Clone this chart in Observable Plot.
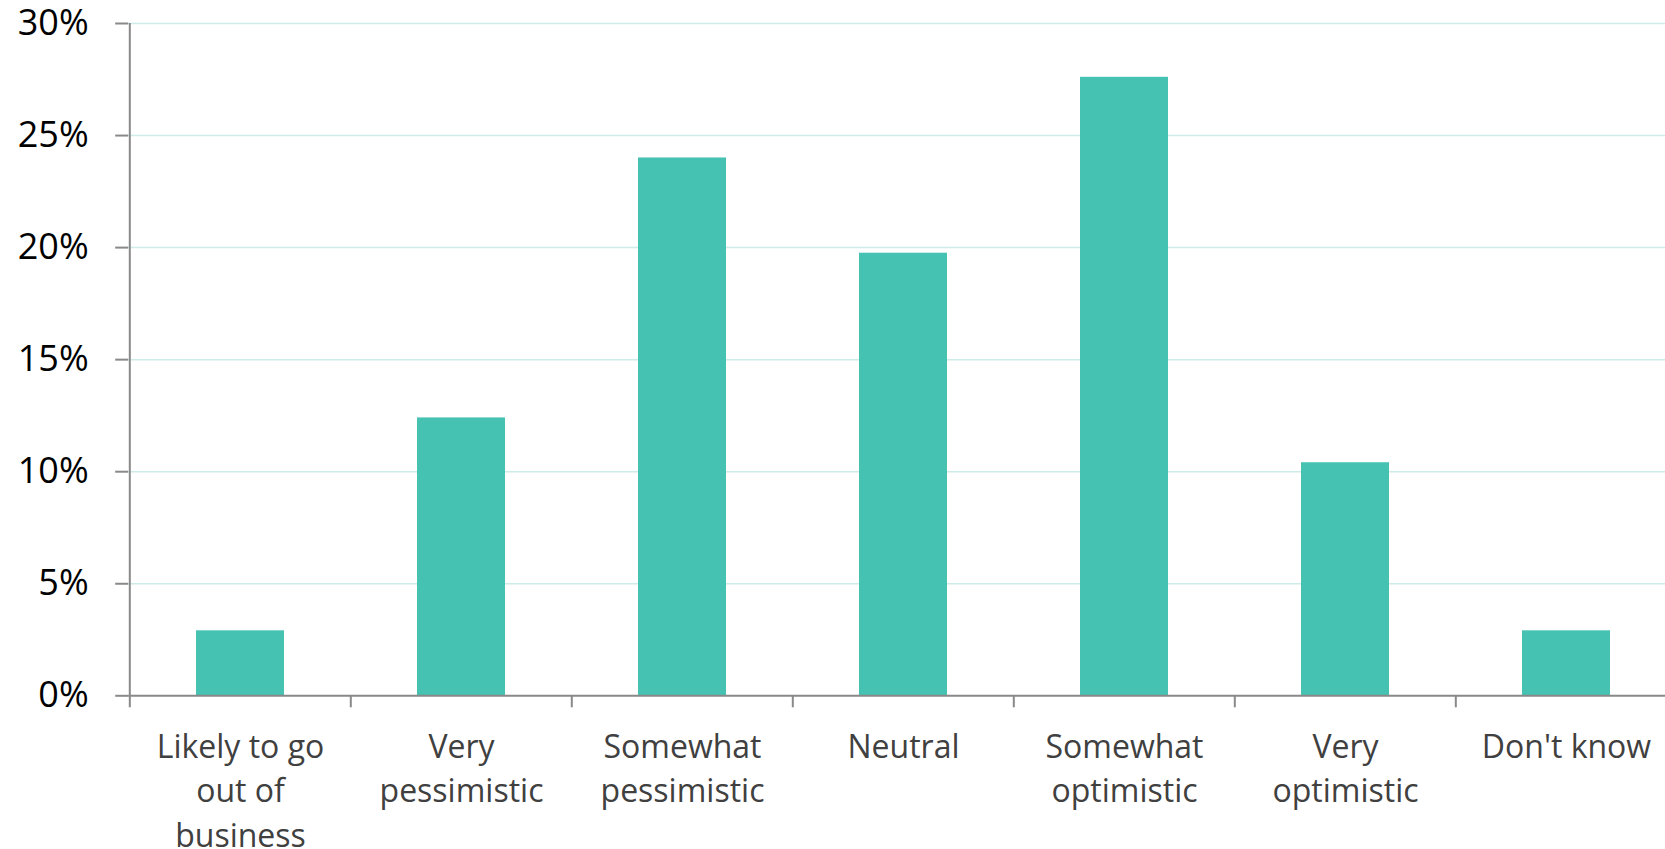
<!DOCTYPE html>
<html>
<head>
<meta charset="utf-8">
<script src="https://cdn.jsdelivr.net/npm/d3@7"></script>
<script src="https://cdn.jsdelivr.net/npm/@observablehq/plot@0.6"></script>
<style>
  html, body { margin: 0; padding: 0; background: #fff; overflow: hidden; }
  #chart svg { display: block; }
</style>
</head>
<body>
<div id="chart"></div>
<script>
const categories = ["Likely to go out of business", "Very pessimistic", "Somewhat pessimistic", "Neutral", "Somewhat optimistic", "Very optimistic", "Don't know"];
const tickLabels = ["Likely to go\nout of\nbusiness", "Very\npessimistic", "Somewhat\npessimistic", "Neutral", "Somewhat\noptimistic", "Very\noptimistic", "Don't know"];
const values = [2.9, 12.4, 24.0, 19.75, 27.6, 10.4, 2.9];
const yTicks = [0, 5, 10, 15, 20, 25, 30];
const gridTicks = [5, 10, 15, 20, 25, 30];

const data = categories.map((c, i) => ({category: c, value: values[i]}));

const W = 1665, H = 849;
const xRange = [128.2, 1678];
const step = (xRange[1] - xRange[0]) / categories.length;
const axisGray = "#898989";

const chart = Plot.plot({
  width: W,
  height: H,
  marginTop: 23,
  marginBottom: 153.7,
  marginLeft: 128.2,
  marginRight: 0,
  style: {fontFamily: "'Open Sans', sans-serif", background: "#fff", overflow: "visible"},
  x: {type: "band", domain: categories, range: xRange, paddingInner: 0.6, paddingOuter: 0.3},
  y: {domain: [0, 30]},
  marks: [
    Plot.ruleY(gridTicks, {stroke: "#cdece8", strokeWidth: 1.5}),
    Plot.barY(data, {x: "category", y: "value", fill: "#46c2b3"}),
    Plot.ruleY([0], {stroke: axisGray, strokeWidth: 2}),
    Plot.ruleX([categories[0]], {x: d => d, y1: 0, y2: 30, dx: -step / 2, stroke: axisGray, strokeWidth: 2}),
    Plot.axisY({ticks: yTicks, tickFormat: d => d + "%", tickSize: 13, tickPadding: 27, fontSize: 36, stroke: axisGray, strokeWidth: 2, fill: "#000", label: null}),
    Plot.axisX({tickSize: 12, dx: -step / 2, stroke: axisGray, strokeWidth: 2, fill: "none", label: null}),
    Plot.axisX({tickSize: 0, tickPadding: 30, tickFormat: d => tickLabels[categories.indexOf(d)], fontSize: 32, lineHeight: 1.4, fill: "#404040", label: null})
  ]
});
document.getElementById("chart").appendChild(chart);
</script>
</body>
</html>
